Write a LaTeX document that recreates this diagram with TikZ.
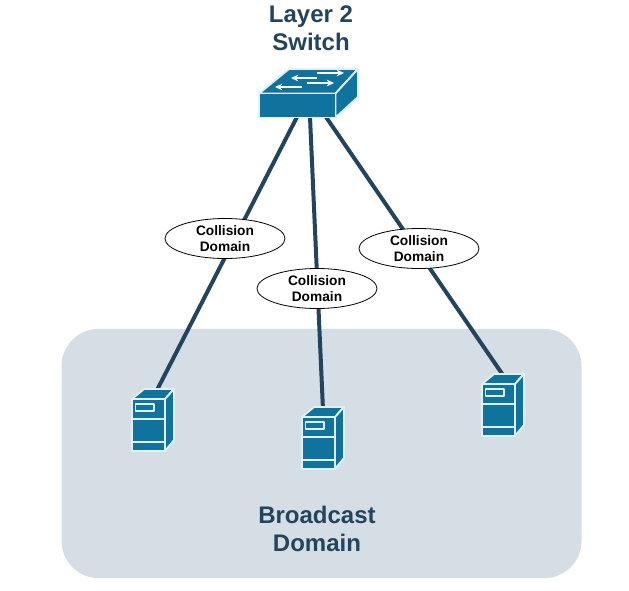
\documentclass[tikz,border=0pt]{standalone}
\usepackage{fontspec}
\setmainfont{Liberation Sans}
\usepackage{xcolor}
\usepackage{tikz}
\usetikzlibrary{shapes.geometric,arrows.meta}
\definecolor{devblue}{RGB}{16,115,158}
\definecolor{linknavy}{RGB}{35,68,93}
\definecolor{domaingray}{RGB}{213,221,229}
\definecolor{edgepale}{RGB}{225,240,246}
\tikzset{
  link/.style={line width=3pt,linknavy},
  domainlabel/.style={ellipse,draw=black,fill=white,line width=0.6pt,minimum width=90pt,minimum height=30pt,inner sep=0pt,
    align=center,font=\fontsize{10.3}{12}\selectfont\bfseries},
  bigtitle/.style={text=linknavy,align=center,font=\fontsize{18}{21}\selectfont\bfseries},
  devface/.style={fill=devblue,draw=edgepale,line width=1.4pt,line join=round},
  swarrow/.style={draw=white,line width=1.2pt,-{Stealth[length=5.5pt,width=5pt]}},
  pics/srvbox/.style={code={
    \draw[devface] (0,0) -- (12,-10) -- (42,-10) -- (33,0) -- cycle;
    \draw[devface] (33,0) -- (42,-10) -- (42,41) -- (33,52) -- cycle;
    \draw[devface] (0,0) rectangle (33,52);
    \draw[devface] (3.5,5) rectangle (22,12);
    \draw[edgepale,line width=1.4pt] (0,20) -- (33,20);
    \draw[edgepale,line width=1.4pt] (0,43) -- (33,43);
  }},
}
\begin{document}
\begin{tikzpicture}[x=0.75pt,y=-0.75pt]
    \useasboundingbox (0,0) rectangle (629,590);
    % Broadcast area
    \node[draw=none,fill=domaingray,rounded corners=28pt,minimum width=390pt,minimum height=187pt,inner sep=0pt] (broadcast) at (321.5,453.5) {};
    % Link end points
    \coordinate (swA) at (297,117);
    \coordinate (swB) at (310,117);
    \coordinate (swC) at (326,117);
    \coordinate (srvA) at (156,392);
    \coordinate (srvB) at (323,410);
    \coordinate (srvC) at (505,378);
    % Links
    \draw[link] (swA) -- (srvA);
    \draw[link] (swB) -- (srvB);
    \draw[link] (swC) -- (srvC);
    % Switch
    \draw[devface] (259,93.5) -- (289,69) -- (358,69) -- (335.5,93.5) -- cycle;
    \draw[devface] (335.5,93.5) -- (358,69) -- (358,97) -- (335.5,117.5) -- cycle;
    \draw[devface] (259,93.5) rectangle (335.5,117.5);
    \coordinate (arrAa) at (317,73);
    \coordinate (arrAb) at (344,73);
    \coordinate (arrBa) at (317,78);
    \coordinate (arrBb) at (291,78);
    \coordinate (arrCa) at (307,83);
    \coordinate (arrCb) at (334,83);
    \coordinate (arrDa) at (302,87);
    \coordinate (arrDb) at (275,87);
    \draw[swarrow] (arrAa) -- (arrAb);
    \draw[swarrow] (arrBa) -- (arrBb);
    \draw[swarrow] (arrCa) -- (arrCb);
    \draw[swarrow] (arrDa) -- (arrDb);
    % Servers
    \pic at (132,399) {srvbox};
    \pic at (302,417) {srvbox};
    \pic at (482,384) {srvbox};
    % Collision domains
    \node[domainlabel] (colA) at (225,238.5) {Collision\\Domain};
    \node[domainlabel] (colB) at (317,288.5) {Collision\\Domain};
    \node[domainlabel] (colC) at (419,248.5) {Collision\\Domain};
    % Titles
    \node[bigtitle] (swtitle) at (311,28) {Layer 2\\Switch};
    \node[bigtitle] (bdtitle) at (317,529) {Broadcast\\Domain};
  \end{tikzpicture}
\end{document}
